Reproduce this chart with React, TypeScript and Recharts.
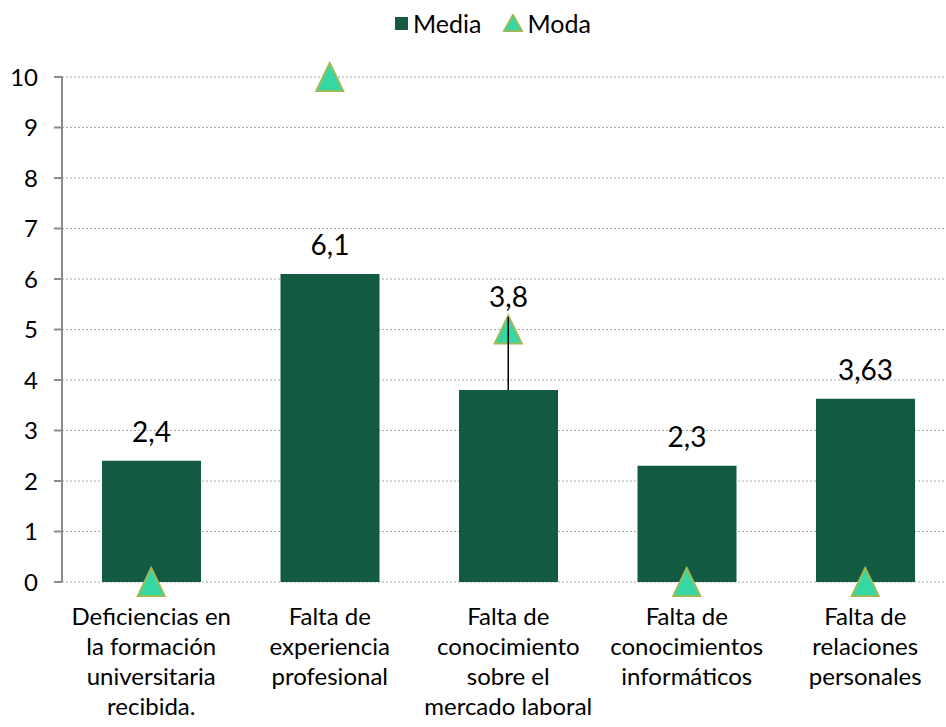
import React from 'react';
import {
  ComposedChart,
  Bar,
  Line,
  XAxis,
  YAxis,
  CartesianGrid,
  LabelList,
  ReferenceLine,
} from 'recharts';

const categories = [
  'Deficiencias en\nla formación\nuniversitaria\nrecibida.',
  'Falta de\nexperiencia\nprofesional',
  'Falta de\nconocimiento\nsobre el\nmercado laboral',
  'Falta de\nconocimientos\ninformáticos',
  'Falta de\nrelaciones\npersonales',
];
const media = [2.4, 6.1, 3.8, 2.3, 3.63];
const moda = [0, 10, 5, 0, 0];
const mediaLabels = ['2,4', '6,1', '3,8', '2,3', '3,63'];
// value where a moved data label sits (null = right above the bar)
const labelAt: (number | null)[] = [null, null, 5.64, null, null];
const yTicks = [0, 1, 2, 3, 4, 5, 6, 7, 8, 9, 10];
const bandTicks = [0, 1, 2, 3, 4, 5];

const BAR = '#135a43';
const TRI_FILL = '#35d8a4';
const TRI_STROKE = '#9bbb59';
const AXIS = '#8c8c8c';
const FONT = 'Lato, "Open Sans", sans-serif';

const data = categories.map((name, i) => ({
  name,
  media: media[i],
  moda: moda[i],
  label: mediaLabels[i],
}));

const Triangle = ({ cx, cy }: any) => {
  if (cx == null || cy == null) return null;
  return (
    <polygon
      points={`${cx},${cy - 14} ${cx - 13.5},${cy + 14} ${cx + 13.5},${cy + 14}`}
      fill={TRI_FILL}
      stroke={TRI_STROKE}
      strokeWidth={2}
      strokeLinejoin="miter"
    />
  );
};

const CatTick = ({ x, y, payload }: any) => {
  const lines = String(payload.value).split('\n');
  return (
    <text x={x} y={y} textAnchor="middle" fontSize={24} fontFamily={FONT} fill="#000">
      {lines.map((l, i) => (
        <tspan key={i} x={x} dy={i === 0 ? 35 : 30}>
          {l}
        </tspan>
      ))}
    </text>
  );
};

const BarLabel = ({ x, y, width, height, index }: any) => {
  const cx = x + width / 2;
  const bottom = y + height;
  const perUnit = height / media[index];
  const at = labelAt[index];
  const cy = at == null ? y - 29 : bottom - at * perUnit;
  return (
    <text
      x={cx}
      y={cy}
      dy="0.36em"
      textAnchor="middle"
      fontSize={28}
      fontFamily={FONT}
      fill="#000"
    >
      {mediaLabels[index]}
    </text>
  );
};

const Legend = () => (
  <div
    style={{
      position: 'absolute',
      top: 8,
      left: 395,
      display: 'flex',
      alignItems: 'center',
      fontFamily: FONT,
      fontSize: 25,
      color: '#000',
    }}
  >
    <svg width={13} height={13} style={{ marginRight: 5 }}>
      <rect x={0} y={0} width={13} height={13} fill={BAR} />
    </svg>
    <span style={{ marginRight: 22 }}>Media</span>
    <svg width={20} height={18} style={{ marginRight: 4 }}>
      <polygon points="10,1 1,17 19,17" fill={TRI_FILL} stroke={TRI_STROKE} strokeWidth={2} />
    </svg>
    <span>Moda</span>
  </div>
);

export default function App() {
  return (
    <div
      style={{
        position: 'absolute',
        left: 0,
        top: 0,
        width: 946,
        height: 727,
        overflow: 'hidden',
        background: '#fff',
      }}
    >
      <Legend />
      <ComposedChart
        width={960}
        height={727}
        data={data}
        margin={{ top: 77, right: 5.5, bottom: 0, left: 0 }}
        barCategoryGap={40}
      >
        <CartesianGrid
          vertical={false}
          stroke="#a6a6a6"
          strokeDasharray="2 2"
        />
        <XAxis
          xAxisId="bands"
          type="number"
          domain={[0, 5]}
          ticks={bandTicks}
          height={0}
          tick={() => <g />}
          tickSize={8}
          tickLine={{ stroke: AXIS, strokeWidth: 2 }}
          axisLine={{ stroke: AXIS, strokeWidth: 2 }}
          allowDataOverflow
        />
        <XAxis
          xAxisId="cat"
          dataKey="name"
          type="category"
          interval={0}
          height={145}
          axisLine={false}
          tickLine={false}
          tick={<CatTick />}
        />
        <YAxis
          domain={[0, 10]}
          ticks={yTicks}
          width={62}
          tickSize={8}
          tickMargin={16}
          interval={0}
          axisLine={{ stroke: AXIS, strokeWidth: 2 }}
          tickLine={{ stroke: AXIS, strokeWidth: 2 }}
          tick={{ fontSize: 24, fontFamily: FONT, fill: '#000' }}
        />
        <Bar xAxisId="cat" dataKey="media" fill={BAR} isAnimationActive={false}>
          <LabelList dataKey="label" content={<BarLabel />} />
        </Bar>
        <Line
          xAxisId="cat"
          dataKey="moda"
          stroke="none"
          dot={<Triangle />}
          activeDot={false}
          isAnimationActive={false}
        />
        <ReferenceLine
          xAxisId="cat"
          zIndex={1000}
          segment={[
            { x: categories[2], y: media[2] },
            { x: categories[2], y: 5.25 },
          ]}
          stroke="#000"
          strokeWidth={1.5}
        />
      </ComposedChart>
    </div>
  );
}
